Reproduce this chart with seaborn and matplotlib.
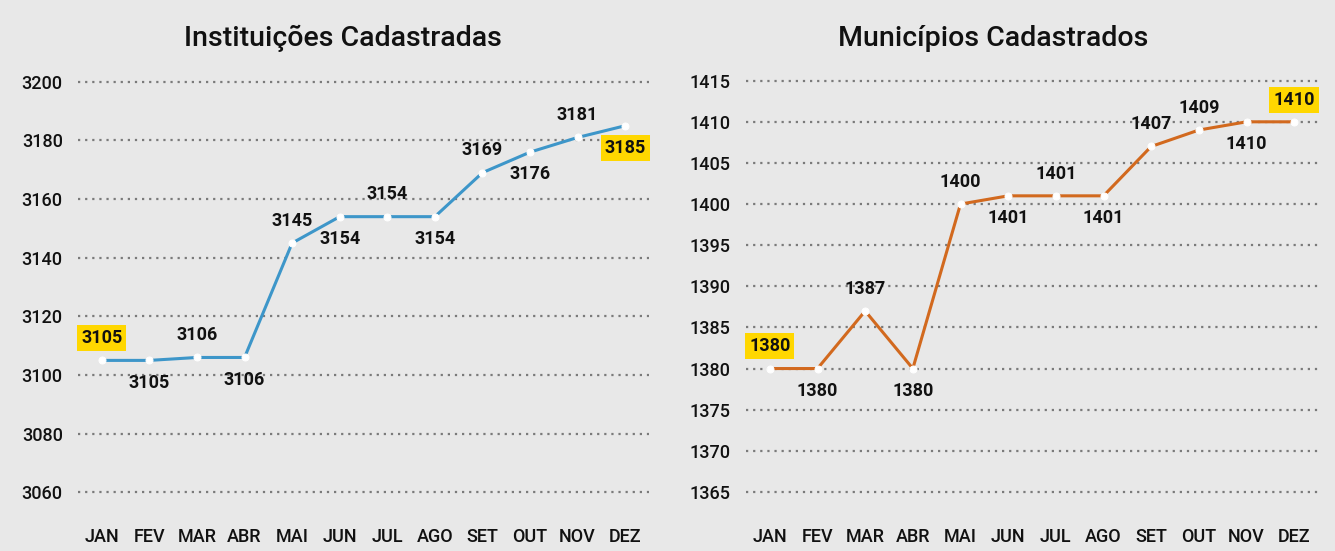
import matplotlib
matplotlib.use("Agg")
import matplotlib.pyplot as plt
import seaborn as sns
import pandas as pd

meses = ["JAN", "FEV", "MAR", "ABR", "MAI", "JUN", "JUL", "AGO", "SET", "OUT", "NOV", "DEZ"]
instituicoes = [3105, 3105, 3106, 3106, 3145, 3154, 3154, 3154, 3169, 3176, 3181, 3185]
municipios = [1380, 1380, 1387, 1380, 1400, 1401, 1401, 1401, 1407, 1409, 1410, 1410]
# label placement: 1 = above, -1 = below
pos_inst = [1, -1, 1, -1, 1, -1, 1, -1, 1, -1, 1, -1]
pos_mun = [1, -1, 1, -1, 1, -1, 1, -1, 1, 1, -1, 1]
ticks_inst = [3060, 3080, 3100, 3120, 3140, 3160, 3180, 3200]
ticks_mun = [1365, 1370, 1375, 1380, 1385, 1390, 1395, 1400, 1405, 1410, 1415]

sns.set_theme(style="white")
plt.rcParams["font.family"] = ["Roboto", "DejaVu Sans"]

BG = "#e8e8e8"
fig = plt.figure(figsize=(13.35, 5.51), dpi=100)
fig.patch.set_facecolor(BG)

W, H = 1335, 551

def make_ax(x0, x1, y0, y1):
    return fig.add_axes([x0 / W, (H - y1) / H, (x1 - x0) / W, (y1 - y0) / H])

def draw(ax, values, positions, ticks, ylim, color, title, title_x):
    df = pd.DataFrame({"mes": meses, "valor": values})
    ax.set_facecolor(BG)
    for t in ticks:
        ax.axhline(t, color="#7a7a7a", lw=1.6, ls=(0, (1, 2.2)), zorder=0)
    sns.lineplot(data=df, x="mes", y="valor", ax=ax, color=color, lw=2.2,
                 sort=False, marker="o", markersize=5,
                 markerfacecolor="white", markeredgecolor="white", zorder=3)
    ax.set_xlim(-0.5, 11.5)
    ax.set_ylim(*ylim)
    ax.set_yticks(ticks)
    ax.set_yticklabels([str(t) for t in ticks])
    ax.set_xlabel("")
    ax.set_ylabel("")
    for s in ax.spines.values():
        s.set_visible(False)
    ax.tick_params(axis="both", length=0, labelsize=13, colors="#111111")
    ax.tick_params(axis="y", pad=11)
    ax.tick_params(axis="x", pad=13)
    for lab in ax.get_xticklabels() + ax.get_yticklabels():
        lab.set_fontweight("medium")
    n = len(values)
    for i, (v, p) in enumerate(zip(values, positions)):
        kw = {}
        if i == 0 or i == n - 1:
            kw["bbox"] = dict(boxstyle="square,pad=0.22", fc="#ffd700", ec="none")
        ax.annotate(str(v), (i, v), xytext=(0, 16 * p), textcoords="offset points",
                    ha="center", va="center", fontsize=13, fontweight="bold",
                    color="#111111", zorder=5, **kw)
    fig.text(title_x / W, (H - 38) / H, title, ha="center", va="center",
             fontsize=20.5, fontweight="medium", color="#111111")

ax1 = make_ax(78, 649, 70, 510)
draw(ax1, instituicoes, pos_inst, ticks_inst, (3054, 3204), "#3d96c9",
     "Instituições Cadastradas", 343)

ax2 = make_ax(746, 1318, 70, 510)
draw(ax2, municipios, pos_mun, ticks_mun, (1362.8, 1416.3), "#d2691e",
     "Municípios Cadastrados", 993)

fig.savefig("out.png", dpi=100, facecolor=BG)
